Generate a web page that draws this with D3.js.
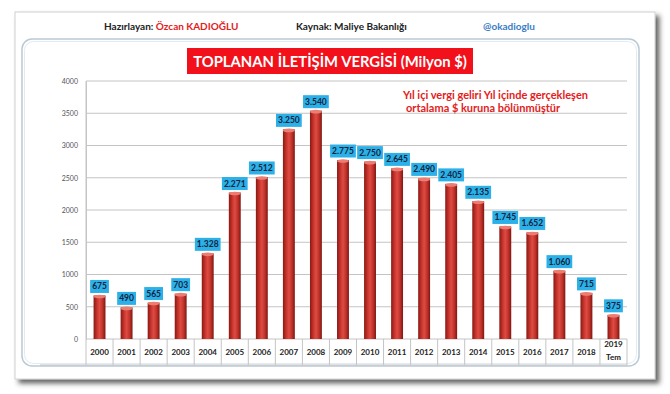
<!DOCTYPE html>
<html>
<head>
<meta charset="utf-8">
<script src="https://cdn.jsdelivr.net/npm/d3@7"></script>
<style>
  body { margin: 0; background: #fff; }
  text { font-family: Lato, "Open Sans", sans-serif; }
</style>
</head>
<body>
<div id="chart"></div>
<script>
// data
var years = ['2000','2001','2002','2003','2004','2005','2006','2007','2008','2009',
             '2010','2011','2012','2013','2014','2015','2016','2017','2018','2019 Tem'];
var values = [675, 490, 565, 703, 1328, 2271, 2512, 3250, 3540, 2775,
              2750, 2645, 2490, 2405, 2135, 1745, 1652, 1060, 715, 375];
var yTicks = [0, 500, 1000, 1500, 2000, 2500, 3000, 3500, 4000];

const width = 670, height = 394;
const plotL = 86, plotR = 627, plotT = 81, plotB = 339;

var svg = d3.select('#chart')
    .append('svg')
    .attr('width', width)
    .attr('height', height);

var defs = svg.append('defs');
var shadow = defs.append('filter').attr('id','shadow')
    .attr('x','-5%').attr('y','-5%').attr('width','115%').attr('height','115%');
shadow.append('feDropShadow')
    .attr('dx',4).attr('dy',4).attr('stdDeviation',2.5)
    .attr('flood-color','#333').attr('flood-opacity',0.75);

var grad = defs.append('linearGradient').attr('id','barGrad')
    .attr('x1','0%').attr('x2','100%').attr('y1','0%').attr('y2','0%');
grad.append('stop').attr('offset','0%').attr('stop-color','#8a1813');
grad.append('stop').attr('offset','30%').attr('stop-color','#c8362e');
grad.append('stop').attr('offset','50%').attr('stop-color','#de4b42');
grad.append('stop').attr('offset','75%').attr('stop-color','#c0332b');
grad.append('stop').attr('offset','100%').attr('stop-color','#7f1611');

// outer white panel
svg.append('rect')
    .attr('x',15).attr('y',12).attr('width',640).attr('height',367)
    .attr('fill','#fff').attr('stroke','#d0d0d0').attr('stroke-width',1)
    .attr('filter','url(#shadow)');

// inner chart panel
svg.append('rect')
    .attr('x',22).attr('y',39).attr('width',617).attr('height',327)
    .attr('rx',10).attr('ry',10)
    .attr('fill','#fff').attr('stroke','#b9c9d6').attr('stroke-width',1.5);
svg.append('rect')
    .attr('x',24.5).attr('y',41.5).attr('width',612).attr('height',322)
    .attr('rx',9).attr('ry',9)
    .attr('fill','none').attr('stroke','#e3ebf1').attr('stroke-width',1);

// header
var head = svg.append('text').attr('x',104).attr('y',30)
    .attr('font-size',10).attr('font-weight','bold');
head.append('tspan').attr('fill','#222').text('Hazırlayan: ');
head.append('tspan').attr('fill','#e3201b').text('Özcan KADIOĞLU');
svg.append('text').attr('x',296).attr('y',30)
    .attr('font-size',10).attr('font-weight','bold').attr('fill','#222')
    .text('Kaynak: Maliye Bakanlığı');
svg.append('text').attr('x',483).attr('y',30)
    .attr('font-size',10).attr('font-weight','bold').attr('fill','#3b7cc4')
    .text('@okadioglu');

// title
svg.append('rect').attr('x',187).attr('y',48).attr('width',286).attr('height',26)
    .attr('fill','#f2101a');
var title = svg.append('text').attr('x',330).attr('y',66.5)
    .attr('text-anchor','middle').attr('font-size',16).attr('font-weight','bold')
    .attr('fill','#fff')
    .text('TOPLANAN İLETİŞİM VERGİSİ (Milyon $)');
var tw = title.node().getComputedTextLength();
if (tw > 274) title.attr('font-size', 16 * 274 / tw);

var x = d3.scaleBand().domain(years).range([plotL, plotR]).paddingInner(0.56).paddingOuter(0.28);
var band = d3.scaleBand().domain(years).range([plotL, plotR]);
var y = d3.scaleLinear().domain([0, 4000]).range([plotB, plotT]);

// grid
svg.append('g').selectAll('line').data(yTicks).enter().append('line')
    .attr('x1', plotL).attr('x2', plotR)
    .attr('y1', d => y(d)).attr('y2', d => y(d))
    .attr('stroke', '#c4c4c4').attr('stroke-width', 1);

// y axis
var yAxis = svg.append('g')
    .attr('transform','translate(' + plotL + ',0)')
    .call(d3.axisLeft(y).tickValues(yTicks).tickSize(0).tickPadding(8).tickFormat(d3.format('d')));
yAxis.select('.domain').attr('stroke','#c4c4c4');
yAxis.selectAll('text').attr('font-size',7).attr('fill','#555')
    .style('font-family','Lato, sans-serif');

// category table below
svg.append('line').attr('x1',plotL).attr('x2',plotL).attr('y1',plotT).attr('y2',365)
    .attr('stroke','#c4c4c4');
svg.append('g').selectAll('line').data(years).enter().append('line')
    .attr('x1', d => band(d) + band.bandwidth()).attr('x2', d => band(d) + band.bandwidth())
    .attr('y1', plotB).attr('y2', 365)
    .attr('stroke', '#c4c4c4');
svg.append('line').attr('x1',40).attr('x2',plotR).attr('y1',365).attr('y2',365)
    .attr('stroke','#c4c4c4');

var yearText = svg.append('g').selectAll('text').data(years).enter().append('text')
    .attr('x', d => band(d) + band.bandwidth() / 2)
    .attr('y', 355)
    .attr('text-anchor','middle').attr('font-size',8).attr('font-weight','bold')
    .attr('fill','#222');
yearText.each(function(d){
    var parts = d.split(' ');
    var t = d3.select(this);
    if (parts.length > 1) {
        t.attr('y', 347);
        t.append('tspan').attr('x', band(d) + band.bandwidth() / 2).text(parts[0]);
        t.append('tspan').attr('x', band(d) + band.bandwidth() / 2).attr('dy', 13).text(parts[1]);
    } else {
        t.text(d);
    }
});

// bars
var bars = svg.append('g').selectAll('g.bar')
    .data(values.map((v, i) => ({ year: years[i], value: v })))
    .enter().append('g').attr('class','bar');
bars.append('rect')
    .attr('x', d => x(d.year))
    .attr('y', d => y(d.value))
    .attr('width', x.bandwidth())
    .attr('height', d => plotB - y(d.value))
    .attr('fill', 'url(#barGrad)');
bars.append('ellipse')
    .attr('cx', d => x(d.year) + x.bandwidth() / 2)
    .attr('cy', d => y(d.value) + 1)
    .attr('rx', x.bandwidth() / 2)
    .attr('ry', 1.8)
    .attr('fill', '#ec7d72');

// value labels
var fmt = d3.formatLocale({ decimal: ',', thousands: '.', grouping: [3], currency: ['', ''] }).format(',d');
var labels = bars.append('g')
    .attr('transform', d => 'translate(' + (x(d.year) + x.bandwidth() / 2) + ',' + (y(d.value) - 9) + ')');
labels.append('text')
    .attr('text-anchor','middle').attr('dy', 3)
    .attr('font-size', 8.5).attr('font-weight','bold').attr('fill','#14243e')
    .text(d => fmt(d.value));
labels.each(function(){
    var g = d3.select(this);
    var w = g.select('text').node().getComputedTextLength() + 4;
    g.insert('rect', 'text')
        .attr('x', -w / 2).attr('y', -6.5).attr('width', w).attr('height', 13)
        .attr('fill', '#2bb0e8');
});

// annotation
svg.append('text').attr('x',403).attr('y',99)
    .attr('font-size',11).attr('font-weight','bold').attr('fill','#e3201b')
    .text('Yıl içi vergi geliri Yıl içinde gerçekleşen');
svg.append('text').attr('x',406).attr('y',112)
    .attr('font-size',11).attr('font-weight','bold').attr('fill','#e3201b')
    .text('ortalama $ kuruna bölünmüştür');
</script>
</body>
</html>
